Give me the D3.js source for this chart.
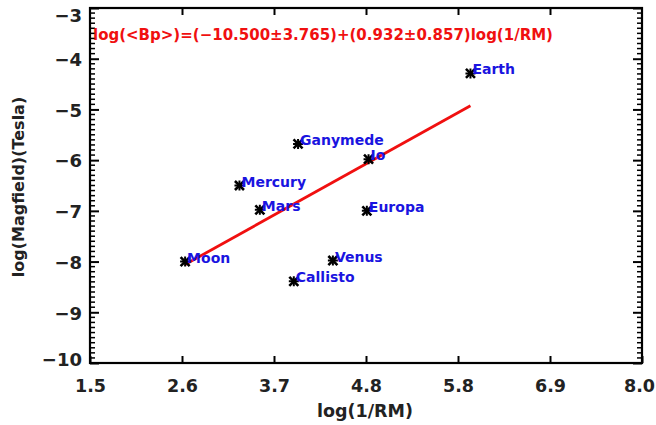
<!DOCTYPE html>
<html>
<head>
<meta charset="utf-8">
<script src="https://cdn.jsdelivr.net/npm/d3@7"></script>
<style>
  html, body { margin: 0; padding: 0; background: #fff; }
  svg { display: block; }
  text { font-family: "DejaVu Sans", "Liberation Sans", sans-serif; font-weight: bold; }
</style>
</head>
<body>
<svg id="chart" width="656" height="425"></svg>
<script>
// Bodies and their (log(1/RM), log field) positions
const bodies = ["Moon", "Mercury", "Mars", "Ganymede", "Io", "Europa", "Venus", "Callisto", "Earth"];
const logInvRM = [2.62, 3.26, 3.50, 3.95, 4.78, 4.76, 4.36, 3.90, 5.98];
const logField = [-8.00, -6.50, -6.98, -5.68, -5.98, -7.00, -7.98, -8.39, -4.29];

// Fit coefficients quoted in the equation label
const fitIntercept = -10.500, fitInterceptErr = 3.765;
const fitSlope = 0.932, fitSlopeErr = 0.857;

// Axis ranges and tick values
const xDomain = [1.5, 8.0];
const yDomain = [-10, -3];
const xTicks = [1.5, 1.5 + 6.5 / 6, 1.5 + 13 / 6, 4.75, 1.5 + 26 / 6, 1.5 + 32.5 / 6, 8.0];
const xTickLabels = ["1.5", "2.6", "3.7", "4.8", "5.8", "6.9", "8.0"];
const yTicks = [-10, -9, -8, -7, -6, -5, -4, -3];

const svg = d3.select("#chart");
const plot = { left: 90, right: 642, top: 8, bottom: 363 };

const x = d3.scaleLinear().domain(xDomain).range([plot.left, plot.right]);
const y = d3.scaleLinear().domain(yDomain).range([plot.bottom, plot.top]);

const minus = s => s.replace("-", "\u2212");

// Frame
svg.append("rect")
  .attr("x", plot.left).attr("y", plot.top)
  .attr("width", plot.right - plot.left).attr("height", plot.bottom - plot.top)
  .attr("fill", "none").attr("stroke", "#000").attr("stroke-width", 2.2);

// Bottom axis with labels, top axis with ticks only
const xAxisB = d3.axisBottom(x).tickValues(xTicks)
  .tickFormat((d, i) => xTickLabels[i]).tickSizeInner(-7).tickSizeOuter(0).tickPadding(17);
const gxb = svg.append("g").attr("transform", `translate(0,${plot.bottom})`).call(xAxisB);
gxb.select(".domain").remove();
gxb.selectAll("line").attr("stroke", "#000").attr("stroke-width", 2);
gxb.selectAll("text").attr("font-size", 17.5).attr("fill", "#222");
// keep the last label inside the page
gxb.selectAll("text").filter((d, i, n) => i === n.length - 1).attr("dx", -3);

const xAxisT = d3.axisTop(x).tickValues(xTicks.slice(1, -1)).tickFormat("").tickSizeInner(-7).tickSizeOuter(0);
const gxt = svg.append("g").attr("transform", `translate(0,${plot.top})`).call(xAxisT);
gxt.select(".domain").remove();
gxt.selectAll("line").attr("stroke", "#000").attr("stroke-width", 2);

// Left and right axes: major ticks plus ten minor ticks per unit
const yMinor = d3.range(-100, -29).map(v => v / 10).filter(v => Math.abs(v - Math.round(v)) > 1e-6);
function yAxis(side) {
  const gen = side === "left" ? d3.axisLeft : d3.axisRight;
  const xpos = side === "left" ? plot.left : plot.right;
  const dir = side === "left" ? 1 : -1;
  // minor ticks
  svg.append("g").selectAll("line").data(yMinor).join("line")
    .attr("x1", xpos).attr("x2", xpos + dir * 5)
    .attr("y1", d => y(d)).attr("y2", d => y(d))
    .attr("stroke", "#000").attr("stroke-width", 1.5);
  const gMajor = svg.append("g").attr("transform", `translate(${xpos},0)`)
    .call(gen(y).tickValues(yTicks).tickFormat(side === "left" ? d => minus(d3.format("d")(d)) : "")
      .tickSizeInner(-9).tickSizeOuter(0).tickPadding(8));
  gMajor.select(".domain").remove();
  gMajor.selectAll("line").attr("stroke", "#000").attr("stroke-width", 2);
  // end labels are nudged inward so they stay beside the frame
  gMajor.selectAll("text").attr("font-size", 18).attr("fill", "#222")
    .attr("dy", d => d === yDomain[1] ? "0.75em" : d === yDomain[0] ? "0.12em" : "0.38em");
}
yAxis("left");
yAxis("right");

// Axis titles
svg.append("text").attr("x", 365).attr("y", 417).attr("text-anchor", "middle")
  .attr("font-size", 17.5).attr("fill", "#222").text("log(1/RM)");
svg.append("text").attr("transform", "translate(24,187) rotate(-90)").attr("text-anchor", "middle")
  .attr("font-size", 16).attr("fill", "#222").text("log(Magfield)(Tesla)");

// Fitted line over the span of the data
const xExt = d3.extent(logInvRM);
svg.append("line")
  .attr("x1", x(xExt[0])).attr("y1", y(fitIntercept + fitSlope * xExt[0]))
  .attr("x2", x(xExt[1])).attr("y2", y(fitIntercept + fitSlope * xExt[1]))
  .attr("stroke", "#f01010").attr("stroke-width", 2.8);

// Asterisk markers
const star = d3.symbol().type(d3.symbolX).size(55);
const pts = svg.append("g");
logInvRM.forEach((vx, i) => {
  const g = pts.append("g").attr("transform", `translate(${x(vx)},${y(logField[i])})`);
  g.append("path").attr("d", star()).attr("stroke", "#000").attr("stroke-width", 2.6).attr("fill", "none");
  g.append("path").attr("d", "M0,-5V5M-5,0H5").attr("stroke", "#000").attr("stroke-width", 2);
});

// Body names
logInvRM.forEach((vx, i) => {
  svg.append("text").attr("x", x(vx) + 2).attr("y", y(logField[i]) + 1)
    .attr("font-size", 14).attr("fill", "#1a14e0").text(bodies[i]);
});

// Equation of the fit
const f3 = d3.format(".3f");
svg.append("text").attr("x", 93).attr("y", 40).attr("font-size", 15).attr("fill", "#f01010")
  .text(`log(<Bp>)=(${minus(f3(fitIntercept))}\u00b1${f3(fitInterceptErr)})+(${f3(fitSlope)}\u00b1${f3(fitSlopeErr)})log(1/RM)`);
</script>
</body>
</html>
